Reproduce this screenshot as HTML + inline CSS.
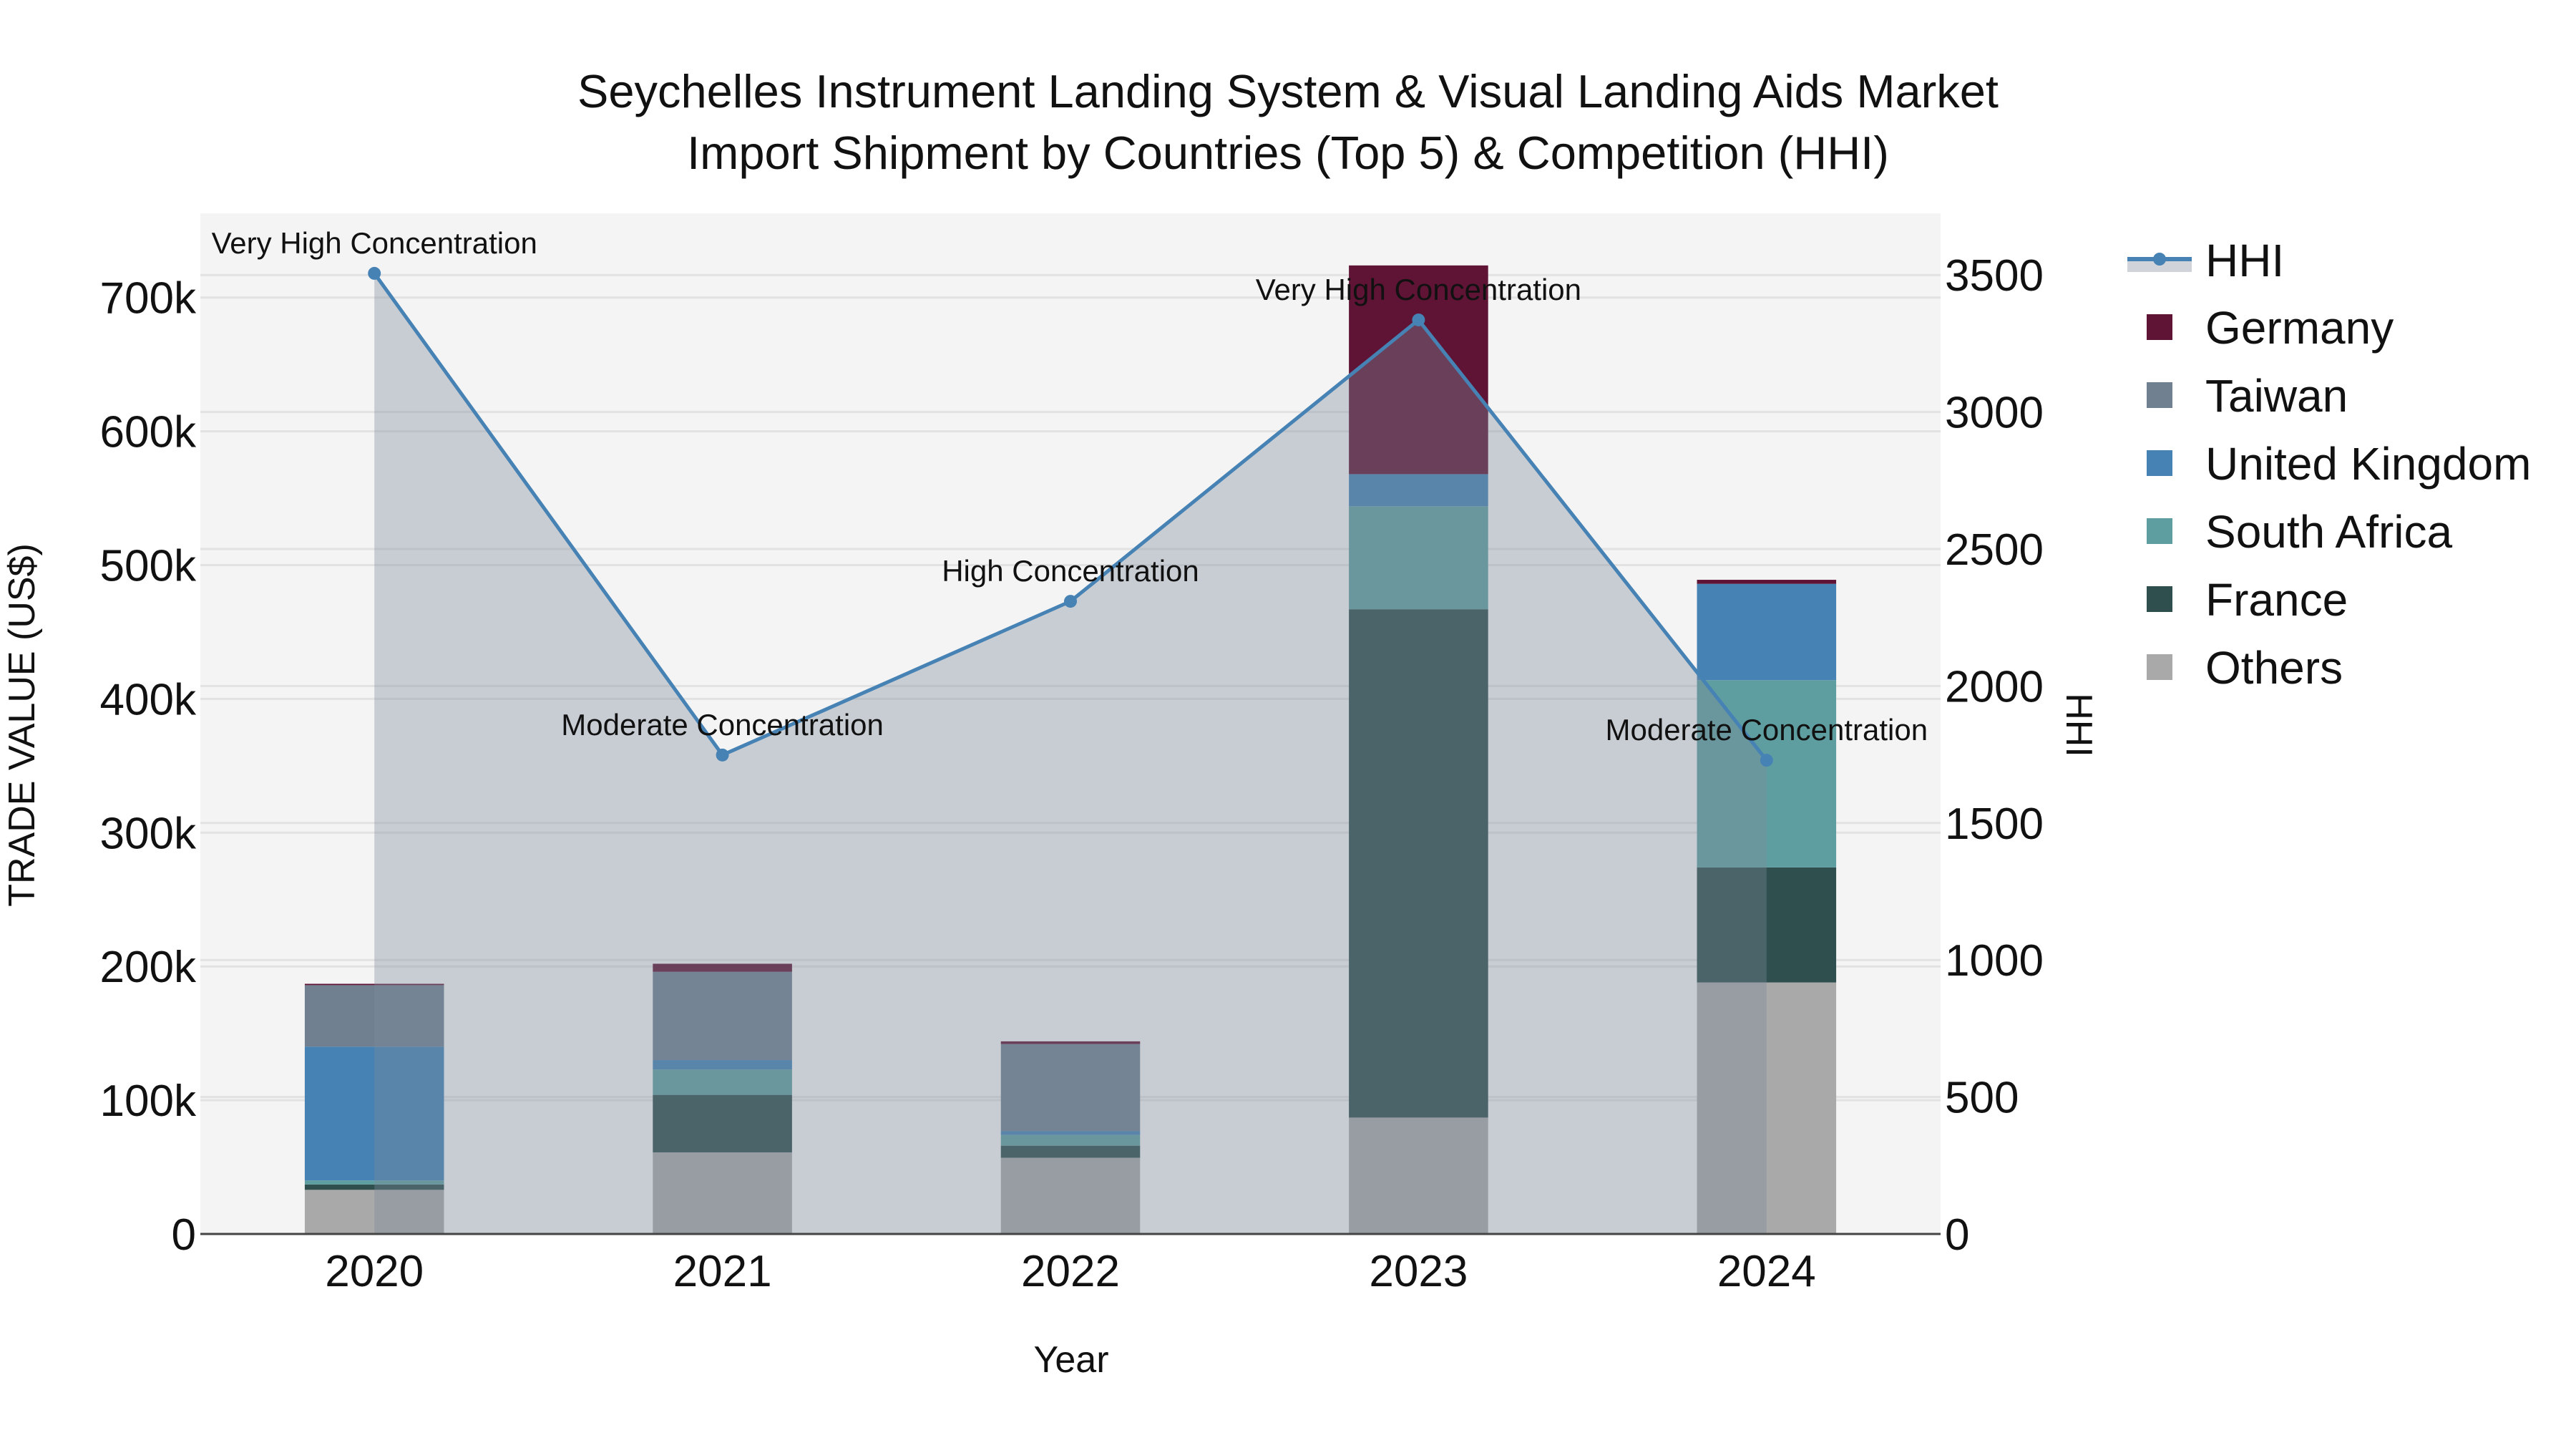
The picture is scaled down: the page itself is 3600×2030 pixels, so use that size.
<!DOCTYPE html>
<html><head><meta charset="utf-8"><style>
body{margin:0;background:#fff;}
svg text{font-family:"Liberation Sans",Arial,sans-serif;fill:#111;}
</style></head><body>
<svg id="chart" width="3600" height="2025" viewBox="0 0 3600 2025" xmlns="http://www.w3.org/2000/svg">
<rect width="3600" height="2025" fill="#fff"/>
<text x="1800" y="150" font-size="65" text-anchor="middle">Seychelles Instrument Landing System &amp; Visual Landing Aids Market</text>
<text x="1800" y="236" font-size="65" text-anchor="middle">Import Shipment by Countries (Top 5) &amp; Competition (HHI)</text>
<rect x="280" y="298" width="2432" height="1426" fill="#f4f4f4"/>
<g id="grid"></g><g id="bars"></g><g id="area"></g><g id="line"></g><g id="axes"></g><g id="legend"></g>
<text transform="translate(48,1013) rotate(-90)" font-size="52" text-anchor="middle">TRADE VALUE (US$)</text>
<text transform="translate(2888,1013) rotate(90)" font-size="52" text-anchor="middle">HHI</text>
<text x="1497" y="1917" font-size="52" text-anchor="middle">Year</text>
</svg>
<script>
const years=['2020','2021','2022','2023','2024'];
const countries=['Others','France','South Africa','United Kingdom','Taiwan','Germany'];
const others=[33000,61000,57000,87000,188000];
const france=[4000,43000,9000,380000,86000];
const southAfrica=[3000,19000,8000,77000,140000];
const uk=[100000,7000,3000,24000,72000];
const taiwan=[46000,66000,65000,0,0];
const germany=[1000,6000,2000,156000,3000];
const hhi=[3506,1748,2309,3336,1729];
const labels=['Very High Concentration','Moderate Concentration','High Concentration','Very High Concentration','Moderate Concentration'];
const yTicks=[0,100000,200000,300000,400000,500000,600000,700000];
const yTickLabels=['0','100k','200k','300k','400k','500k','600k','700k'];
const y2Ticks=[0,500,1000,1500,2000,2500,3000,3500];
const colors=['#a9a9a9','#2f4f4f','#5f9ea0','#4682b4','#708090','#5f1435'];
const series=[others,france,southAfrica,uk,taiwan,germany];
const NS='http://www.w3.org/2000/svg';
const L=280,R=2712,T=298,B=1724;
const step=(R-L)/years.length;
const xs=i=>L+step*(i+0.5);
const y1=v=>B-v/100000*186.9;
const y2=v=>B-v/500*191.4;
function mk(tag,at,parent,txt){const e=document.createElementNS(NS,tag);for(const k in at)e.setAttribute(k,at[k]);if(txt!==undefined)e.textContent=txt;document.getElementById(parent).appendChild(e);return e;}
yTicks.forEach((v,i)=>{if(v===0)return;const g=mk('line',{x1:L,x2:R,y1:y1(v),y2:y1(v),stroke:'#e2e2e2','stroke-width':3},'grid');

});
y2Ticks.forEach(v=>{if(v===0)return;const g=mk('line',{x1:L,x2:R,y1:y2(v),y2:y2(v),stroke:'#e2e2e2','stroke-width':3},'grid');

});
const bw=step*0.4;
years.forEach((yr,i)=>{let base=0;series.forEach((s,k)=>{const v=s[i];if(v>0){const r=mk('rect',{x:xs(i)-bw/2,y:y1(base+v),width:bw,height:y1(base)-y1(base+v),fill:colors[k]},'bars');

}base+=v;});});
let d='M'+xs(0)+','+B;hhi.forEach((v,i)=>{d+=' L'+xs(i)+','+y2(v);});d+=' L'+xs(hhi.length-1)+','+B+' Z';
const ar=mk('path',{d:d,fill:'rgb(126,137,155)','fill-opacity':0.37},'area');


const pl=mk('polyline',{points:hhi.map((v,i)=>xs(i)+','+y2(v)).join(' '),fill:'none',stroke:'#4682b4','stroke-width':5},'line');


hhi.forEach((v,i)=>{const c=mk('circle',{cx:xs(i),cy:y2(v),r:9,fill:'#4682b4'},'line');


const t=mk('text',{x:xs(i),y:y2(v)-28,'font-size':42,'text-anchor':'middle'},'line',labels[i]);

});
const zl=mk('line',{x1:L,x2:R,y1:B,y2:B,stroke:'#444','stroke-width':3},'axes');


yTicks.forEach((v,i)=>{const t=mk('text',{x:L-6,y:y1(v)+22,'font-size':62,'text-anchor':'end'},'axes',yTickLabels[i]);

});
y2Ticks.forEach(v=>{const t=mk('text',{x:R+6,y:y2(v)+22,'font-size':62,'text-anchor':'start'},'axes',String(v));

});
years.forEach((yr,i)=>{const t=mk('text',{x:xs(i),y:1797,'font-size':62,'text-anchor':'middle'},'axes',yr);

});
const lr=mk('rect',{x:2973,y:362,width:90,height:18,fill:'#d0d4da'},'legend');


const ll=mk('line',{x1:2973,x2:3063,y1:362,y2:362,stroke:'#4682b4','stroke-width':6},'legend');


const lc=mk('circle',{cx:3018,cy:362,r:9,fill:'#4682b4'},'legend');


const lt=mk('text',{x:3082,y:386,'font-size':64},'legend','HHI');


const legOrder=[5,4,3,2,1,0];
legOrder.forEach((k,j)=>{const cy=457+j*95;
const s=mk('rect',{x:3000,y:cy-18,width:36,height:36,fill:colors[k]},'legend');


const t=mk('text',{x:3082,y:cy+23,'font-size':64},'legend',countries[k]);

});
</script>
</body></html>
